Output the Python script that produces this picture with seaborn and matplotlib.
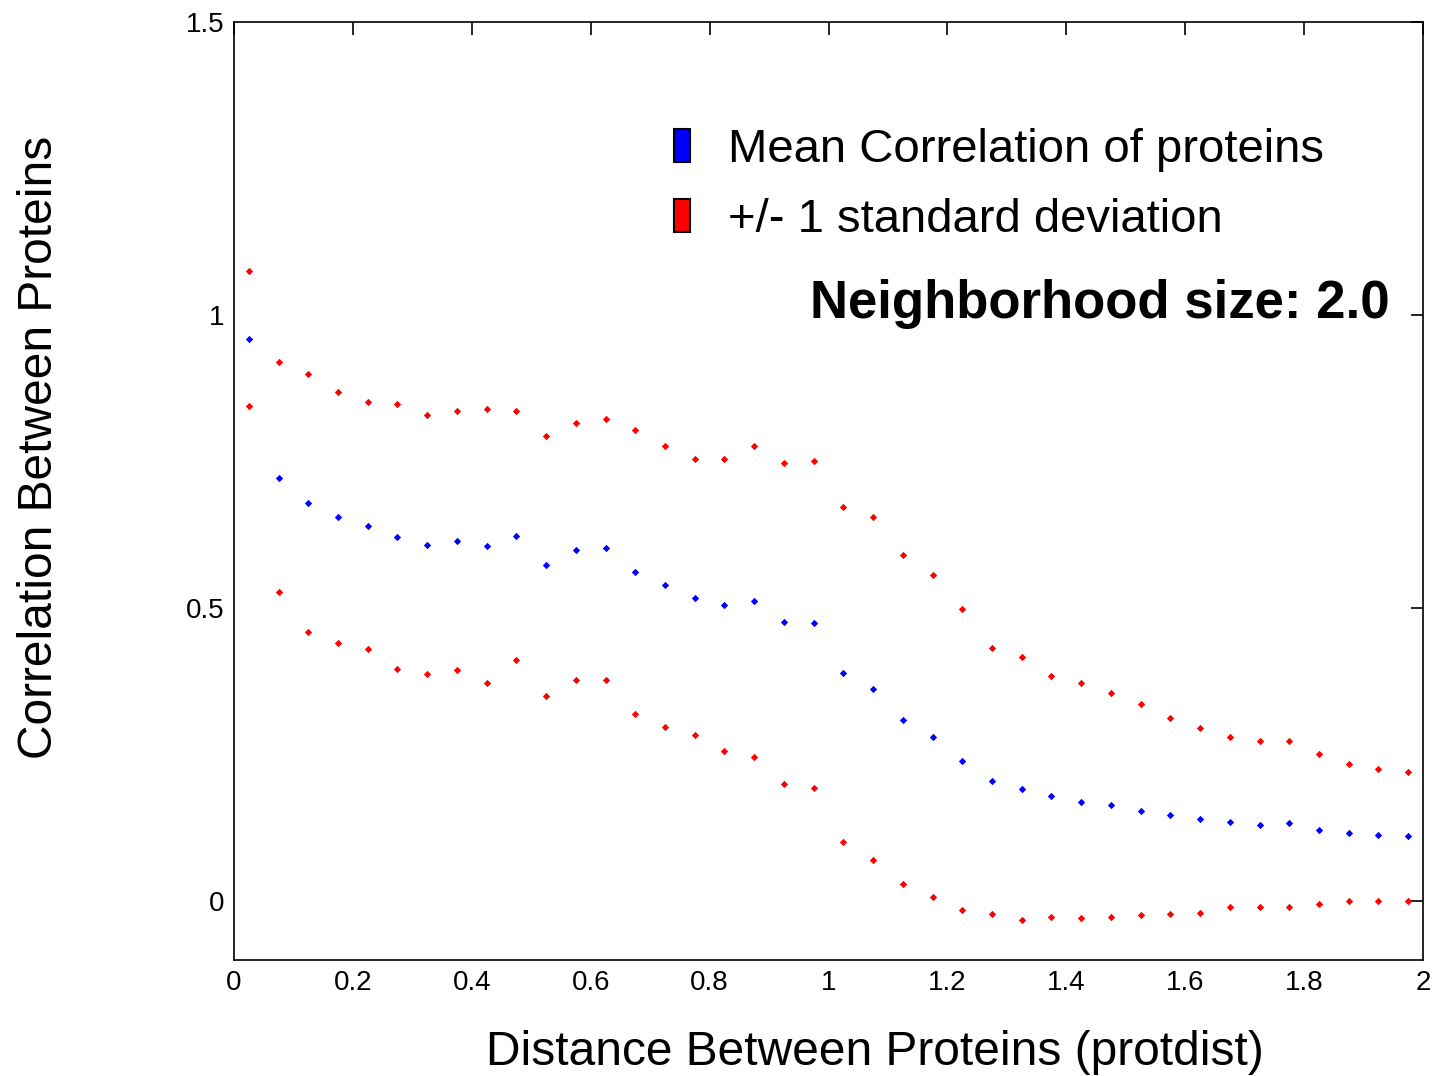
import numpy as np
import pandas as pd
import matplotlib
matplotlib.use("Agg")
import matplotlib.pyplot as plt
import seaborn as sns
from matplotlib.patches import Rectangle

# distance bins (centres)
dist = [0.025, 0.075, 0.125, 0.175, 0.225, 0.275, 0.325, 0.375, 0.425, 0.475,
        0.525, 0.575, 0.625, 0.675, 0.725, 0.775, 0.825, 0.875, 0.925, 0.975,
        1.025, 1.075, 1.125, 1.175, 1.225, 1.275, 1.325, 1.375, 1.425, 1.475,
        1.525, 1.575, 1.625, 1.675, 1.725, 1.775, 1.825, 1.875, 1.925, 1.975]

mean_corr = [0.960, 0.723, 0.680, 0.656, 0.641, 0.622, 0.608, 0.615, 0.607, 0.624,
             0.574, 0.600, 0.602, 0.562, 0.539, 0.518, 0.506, 0.513, 0.476, 0.474,
             0.389, 0.363, 0.309, 0.281, 0.240, 0.206, 0.191, 0.179, 0.170, 0.164,
             0.155, 0.147, 0.140, 0.135, 0.131, 0.133, 0.121, 0.116, 0.114, 0.111]

upper = [1.075, 0.920, 0.900, 0.869, 0.851, 0.849, 0.830, 0.837, 0.840, 0.837,
         0.793, 0.816, 0.822, 0.804, 0.777, 0.755, 0.755, 0.776, 0.748, 0.752,
         0.672, 0.656, 0.590, 0.557, 0.499, 0.433, 0.416, 0.385, 0.372, 0.356,
         0.336, 0.312, 0.295, 0.281, 0.273, 0.273, 0.251, 0.234, 0.225, 0.220]

lower = [0.845, 0.528, 0.460, 0.441, 0.430, 0.397, 0.387, 0.394, 0.373, 0.412,
         0.351, 0.378, 0.378, 0.320, 0.298, 0.283, 0.256, 0.247, 0.201, 0.193,
         0.102, 0.070, 0.029, 0.007, -0.015, -0.022, -0.032, -0.026, -0.029, -0.027,
         -0.024, -0.022, -0.019, -0.010, -0.010, -0.009, -0.005, 0.000, 0.000, 0.000]

sns.set_style("white")
plt.rcParams['font.family'] = ['Liberation Sans', 'DejaVu Sans']
plt.rcParams['text.color'] = 'black'
plt.rcParams['axes.labelcolor'] = 'black'

fig = plt.figure(figsize=(14.35, 10.76), dpi=100)
ax = fig.add_axes([234 / 1435, 1 - 960 / 1076, (1423 - 234) / 1435, (960 - 22) / 1076])

sns.scatterplot(x=dist, y=upper, color='red', marker='D', s=14, linewidth=0, ax=ax)
sns.scatterplot(x=dist, y=lower, color='red', marker='D', s=14, linewidth=0, ax=ax)
sns.scatterplot(x=dist, y=mean_corr, color='blue', marker='D', s=14, linewidth=0, ax=ax)

ax.set_xlim(0, 2)
ax.set_ylim(-0.1, 1.5)
ax.set_xticks([0, 0.2, 0.4, 0.6, 0.8, 1, 1.2, 1.4, 1.6, 1.8, 2])
ax.set_xticklabels(['0', '0.2', '0.4', '0.6', '0.8', '1', '1.2', '1.4', '1.6', '1.8', '2'])
ax.set_yticks([0, 0.5, 1, 1.5])
ax.set_yticklabels(['0', '0.5', '1', '1.5'])
ax.tick_params(direction='in', length=9, width=1.2, top=True, right=True,
               labelsize=20, pad=7, colors='black')
for sp in ax.spines.values():
    sp.set_color('black')
    sp.set_linewidth(1.2)

ax.set_xlabel('Distance Between Proteins (protdist)', fontsize=34.5)
ax.xaxis.set_label_coords(0.539, -0.075)
ax.set_ylabel('Correlation Between Proteins', fontsize=34.5)
ax.yaxis.set_label_coords(-0.145, 0.546)

handles = [Rectangle((0, 0), 1, 1, facecolor='blue', edgecolor='black', linewidth=1.5),
           Rectangle((0, 0), 1, 1, facecolor='red', edgecolor='black', linewidth=1.5)]
ax.legend(handles, ['Mean Correlation of proteins', '+/- 1 standard deviation'],
          loc='upper left', bbox_to_anchor=(0.370, 0.887), frameon=False, fontsize=34,
          handlelength=0.35, handleheight=0.7, handletextpad=0.8, labelspacing=0.55,
          borderpad=0, borderaxespad=0)

ax.text(0.972, 0.684, 'Neighborhood size: 2.0', transform=ax.transAxes, ha='right',
        va='baseline', fontsize=38, fontweight='bold')

fig.savefig('out.png', dpi=100)
